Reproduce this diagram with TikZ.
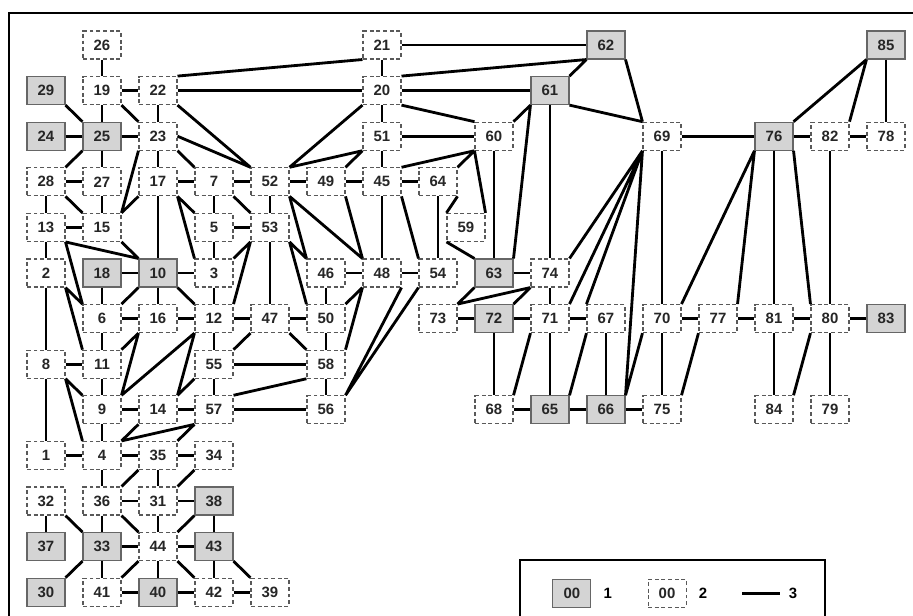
\documentclass[tikz,border=0pt]{standalone}
\usepackage{fontspec}
\setmainfont{Liberation Sans}
\usetikzlibrary{positioning}

\begin{document}
\begin{tikzpicture}[x=1.12cm,y=-0.912cm,
	v/.style={draw=black!65,dash pattern=on 2.2pt off 1.6pt,line width=0.6pt,%
		minimum width=0.76cm,minimum height=0.56cm,inner sep=0pt,%
		font=\bfseries\fontsize{8.5}{9}\selectfont,text=black!85},%
	vg/.style={v,solid,draw=black!60,fill=black!17},%
	e/.style={line width=1.6pt},%
	lbl/.style={font=\bfseries\fontsize{8.5}{9}\selectfont}]
	\useasboundingbox (-0.821,-0.987) rectangle (15.482,12.52);
	\draw[line width=1.2pt] (-0.66,13) -- (-0.66,-0.70) -- (16,-0.70);
	% row 0-2
	\node[v] (n26) at (1,0) {26};
	\node[v] (n21) at (6,0) {21};
	\node[vg] (n62) at (10,0) {62};
	\node[vg] (n85) at (15,0) {85};
	\node[vg] (n29) at (0,1) {29};
	\node[v] (n19) at (1,1) {19};
	\node[v] (n22) at (2,1) {22};
	\node[v] (n20) at (6,1) {20};
	\node[vg] (n61) at (9,1) {61};
	\node[vg] (n24) at (0,2) {24};
	\node[vg] (n25) at (1,2) {25};
	\node[v] (n23) at (2,2) {23};
	\node[v] (n51) at (6,2) {51};
	\node[v] (n60) at (8,2) {60};
	\node[v] (n69) at (11,2) {69};
	\node[vg] (n76) at (13,2) {76};
	\node[v] (n82) at (14,2) {82};
	\node[v] (n78) at (15,2) {78};
	% row 3-5
	\node[v] (n28) at (0,3) {28};
	\node[v] (n27) at (1,3) {27};
	\node[v] (n17) at (2,3) {17};
	\node[v] (n7) at (3,3) {7};
	\node[v] (n52) at (4,3) {52};
	\node[v] (n49) at (5,3) {49};
	\node[v] (n45) at (6,3) {45};
	\node[v] (n64) at (7,3) {64};
	\node[v] (n13) at (0,4) {13};
	\node[v] (n15) at (1,4) {15};
	\node[v] (n5) at (3,4) {5};
	\node[v] (n53) at (4,4) {53};
	\node[v] (n59) at (7.5,4) {59};
	\node[v] (n2) at (0,5) {2};
	\node[vg] (n18) at (1,5) {18};
	\node[vg] (n10) at (2,5) {10};
	\node[v] (n3) at (3,5) {3};
	\node[v] (n46) at (5,5) {46};
	\node[v] (n48) at (6,5) {48};
	\node[v] (n54) at (7,5) {54};
	\node[vg] (n63) at (8,5) {63};
	\node[v] (n74) at (9,5) {74};
	% row 6-8
	\node[v] (n6) at (1,6) {6};
	\node[v] (n16) at (2,6) {16};
	\node[v] (n12) at (3,6) {12};
	\node[v] (n47) at (4,6) {47};
	\node[v] (n50) at (5,6) {50};
	\node[v] (n73) at (7,6) {73};
	\node[vg] (n72) at (8,6) {72};
	\node[v] (n71) at (9,6) {71};
	\node[v] (n67) at (10,6) {67};
	\node[v] (n70) at (11,6) {70};
	\node[v] (n77) at (12,6) {77};
	\node[v] (n81) at (13,6) {81};
	\node[v] (n80) at (14,6) {80};
	\node[vg] (n83) at (15,6) {83};
	\node[v] (n8) at (0,7) {8};
	\node[v] (n11) at (1,7) {11};
	\node[v] (n55) at (3,7) {55};
	\node[v] (n58) at (5,7) {58};
	\node[v] (n9) at (1,8) {9};
	\node[v] (n14) at (2,8) {14};
	\node[v] (n57) at (3,8) {57};
	\node[v] (n56) at (5,8) {56};
	\node[v] (n68) at (8,8) {68};
	\node[vg] (n65) at (9,8) {65};
	\node[vg] (n66) at (10,8) {66};
	\node[v] (n75) at (11,8) {75};
	\node[v] (n84) at (13,8) {84};
	\node[v] (n79) at (14,8) {79};
	% row 9-12
	\node[v] (n1) at (0,9) {1};
	\node[v] (n4) at (1,9) {4};
	\node[v] (n35) at (2,9) {35};
	\node[v] (n34) at (3,9) {34};
	\node[v] (n32) at (0,10) {32};
	\node[v] (n36) at (1,10) {36};
	\node[v] (n31) at (2,10) {31};
	\node[vg] (n38) at (3,10) {38};
	\node[vg] (n37) at (0,11) {37};
	\node[vg] (n33) at (1,11) {33};
	\node[v] (n44) at (2,11) {44};
	\node[vg] (n43) at (3,11) {43};
	\node[vg] (n30) at (0,12) {30};
	\node[v] (n41) at (1,12) {41};
	\node[vg] (n40) at (2,12) {40};
	\node[v] (n42) at (3,12) {42};
	\node[v] (n39) at (4,12) {39};
	% links, left block
	\draw[e] (n26) -- (n19) (n19) -- (n22) (n19) -- (n25) (n24) -- (n25)
		(n25) -- (n23) (n25) -- (n27) (n22) -- (n23) (n23) -- (n17)
		(n28) -- (n27) (n17) -- (n7) (n7) -- (n52) (n28) -- (n13)
		(n27) -- (n15) (n13) -- (n15) (n13) -- (n2) (n18) -- (n10)
		(n10) -- (n3) (n17) -- (n10) (n18) -- (n6) (n10) -- (n16)
		(n6) -- (n16) (n16) -- (n12) (n12) -- (n47) (n3) -- (n12)
		(n5) -- (n3) (n5) -- (n53) (n7) -- (n5) (n52) -- (n53)
		(n53) -- (n47) (n12) -- (n55) (n55) -- (n57) (n6) -- (n11)
		(n11) -- (n9) (n8) -- (n11) (n2) -- (n8) (n8) -- (n1)
		(n9) -- (n14) (n14) -- (n57) (n9) -- (n4) (n1) -- (n4);
	\draw[e] (n19.south east) -- (n23.north west)
		(n29.south east) -- (n25.north west)
		(n25.south west) -- (n28.north east)
		(n23.south east) -- (n7.north west)
		(n23.south west) -- (n15.north east)
		(n17.south west) -- (n15.north east)
		(n28.south east) -- (n15.north west)
		(n13.south east) -- (n10.north west)
		(n15.south east) -- (n10.north west)
		(n13.south east) -- (n6.north west)
		(n2.south east) -- (n6.north west)
		(n2.south east) -- (n11.north west)
		(n10.south west) -- (n6.north east)
		(n10.south east) -- (n12.north west)
		(n17.south east) -- (n5.north west)
		(n17.south east) -- (n3.north west)
		(n7.south east) -- (n53.north west)
		(n53.south west) -- (n3.north east)
		(n53.south west) -- (n12.north east)
		(n12.south west) -- (n9.north east)
		(n12.south west) -- (n14.north east)
		(n55.south west) -- (n14.north east)
		(n11.north east) -- (n16.south west)
		(n16.south west) -- (n9.north east)
		(n8.south east) -- (n9.north west)
		(n8.south east) -- (n4.north west)
		(n4.north east) -- (n14.south west)
		(n4.north east) -- (n57.south west)
		(n35.north east) -- (n57.south west);
	% links, bottom block
	\draw[e] (n4) -- (n35) (n35) -- (n34) (n4) -- (n36) (n35) -- (n31)
		(n36) -- (n31) (n31) -- (n38) (n32) -- (n37) (n36) -- (n33)
		(n31) -- (n44) (n38) -- (n43) (n33) -- (n44) (n44) -- (n43)
		(n33) -- (n41) (n44) -- (n40) (n43) -- (n42) (n41) -- (n40)
		(n40) -- (n42) (n42) -- (n39);
	\draw[e] (n35.south west) -- (n36.north east)
		(n34.south west) -- (n31.north east)
		(n32.south east) -- (n33.north west)
		(n36.south east) -- (n44.north west)
		(n38.south west) -- (n44.north east)
		(n33.south west) -- (n30.north east)
		(n44.south west) -- (n41.north east)
		(n44.south east) -- (n42.north west)
		(n43.south east) -- (n39.north west);
	% links, middle block
	\draw[e] (n22) -- (n20) (n21) -- (n20) (n21) -- (n62) (n20) -- (n61)
		(n20) -- (n51) (n51) -- (n60) (n51) -- (n45) (n52) -- (n49)
		(n49) -- (n45) (n45) -- (n64) (n45) -- (n48) (n64) -- (n54)
		(n60) -- (n63) (n61) -- (n74) (n46) -- (n48) (n48) -- (n54)
		(n46) -- (n50) (n50) -- (n58) (n58) -- (n56) (n47) -- (n50)
		(n55) -- (n58) (n57) -- (n56);
	\draw[e] (n22.south east) -- (n52.north west)
		(n23.east) -- (n52.north west)
		(n22.north east) -- (n21.south west)
		(n20.north east) -- (n62.south west)
		(n61.north east) -- (n62.south west)
		(n20.south east) -- (n60.north west)
		(n20.south west) -- (n52.north east)
		(n51.south west) -- (n52.north east)
		(n51.south west) -- (n49.north east)
		(n45.north east) -- (n60.south west)
		(n64.north east) -- (n60.south west)
		(n60.south west) -- (n59.north east)
		(n64.south east) -- (n59.north west)
		(n61.south west) -- (n60.north east)
		(n61.south west) -- (n63.north east)
		(n45.south east) -- (n54.north west)
		(n52.south east) -- (n46.north west)
		(n52.south east) -- (n48.north west)
		(n53.south east) -- (n46.north west)
		(n53.south east) -- (n50.north west)
		(n49.south east) -- (n48.north west)
		(n50.north east) -- (n48.south west)
		(n58.north east) -- (n48.south west)
		(n56.north east) -- (n48.south east)
		(n56.north east) -- (n54.south west)
		(n47.south east) -- (n58.north west)
		(n47.south west) -- (n55.north east)
		(n57.north east) -- (n58.south west);
	% links, right block
	\draw[e] (n63) -- (n74) (n73) -- (n72) (n72) -- (n71) (n72) -- (n68)
		(n74) -- (n71) (n71) -- (n65) (n68) -- (n65) (n65) -- (n66)
		(n71) -- (n67) (n67) -- (n66) (n69) -- (n70) (n70) -- (n75)
		(n66) -- (n75) (n70) -- (n77) (n77) -- (n81) (n81) -- (n80)
		(n80) -- (n83) (n76) -- (n81) (n82) -- (n80) (n81) -- (n84)
		(n80) -- (n79) (n69) -- (n76) (n76) -- (n82) (n82) -- (n78)
		(n85) -- (n78);
	\draw[e] (n61.south east) -- (n69.north west)
		(n62.south east) -- (n69.north west)
		(n59.south west) -- (n63.north west)
		(n63.south west) -- (n73.north east)
		(n73.north east) -- (n74.south west)
		(n72.north east) -- (n74.south west)
		(n71.south west) -- (n68.north east)
		(n65.north east) -- (n67.south west)
		(n69.south west) -- (n74.north east)
		(n69.south west) -- (n71.north east)
		(n69.south west) -- (n67.north west)
		(n69.south west) -- (n66.north east)
		(n70.south west) -- (n66.north east)
		(n77.south west) -- (n75.north east)
		(n76.south west) -- (n70.north east)
		(n76.south west) -- (n77.north east)
		(n76.south east) -- (n80.north west)
		(n80.south west) -- (n84.north east)
		(n85.south west) -- (n76.north east)
		(n85.south west) -- (n82.north east);
	% key
	\draw[line width=0.9pt] (8.46,13) -- (8.46,11.29) -- (13.91,11.29) -- (13.91,13);
	\node[vg] (key-fix) at (9.39,12.02) {00};
	\node[lbl,right=0.12cm of key-fix] (key-one) {1};
	\node[v] (key-free) at (11.09,12.02) {00};
	\node[lbl,right=0.12cm of key-free] (key-two) {2};
	\coordinate (key-a) at (12.43,12.02);
	\coordinate (key-b) at (13.11,12.02);
	\draw[e] (key-a) -- (key-b);
	\node[lbl,right=0.05cm of key-b] (key-three) {3};
\end{tikzpicture}
\end{document}
